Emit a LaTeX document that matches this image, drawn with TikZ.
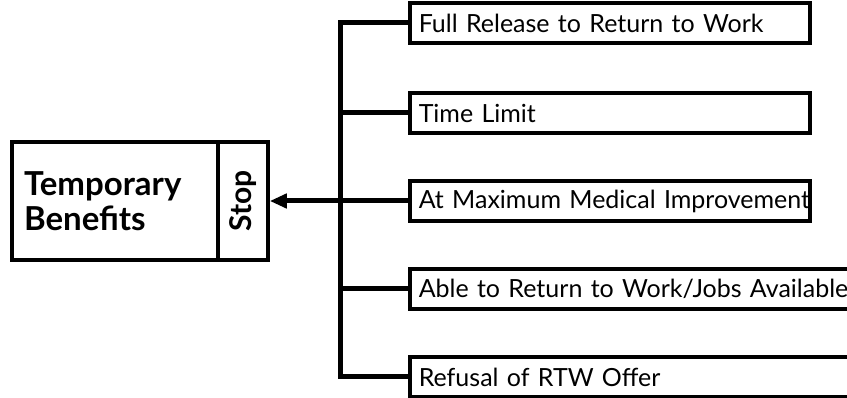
\documentclass[tikz,border=0pt]{standalone}
\usepackage{fontspec}
\setmainfont{Lato}
\usetikzlibrary{arrows.meta}
\begin{document}
\begin{tikzpicture}[x=1pt,y=-1pt,
  frame/.style={draw=black, line width=3.5pt, fill=white},
  item/.style={frame, anchor=west, minimum height=40pt, text width=382pt,
    inner xsep=9pt, align=left, font=\fontsize{25}{28}\selectfont},
  link/.style={line width=5pt, line cap=rect},
  trunk/.style={line width=5pt}]
\clip (0,0) rectangle (847,398);
\path[use as bounding box] (0,0) rectangle (847,398);

% left block: main box and side tab
\node[frame, minimum width=206pt, minimum height=118pt, text width=182pt,
  inner xsep=12pt, align=left, font=\bfseries\fontsize{33}{35}\selectfont] (main) at (115,201)
  {Temporary\\Benefits};
\node[frame, minimum width=50pt, minimum height=118pt, inner sep=0pt,
  font=\bfseries\fontsize{30}{32}\selectfont] (stop) at (243,201)
  {\rotatebox{90}{Stop}};

% reasons on the right
\node[item] (r1) at (408,23)  {\mbox{Full Release to Return to Work}};
\node[item] (r2) at (408,113) {\mbox{Time Limit}};
\node[item] (r3) at (408,201) {\mbox{At Maximum Medical Improvement}};
\node[item, text width=440pt] (r4) at (408,289) {\mbox{Able to Return to Work/Jobs Available}};
\node[item, text width=440pt] (r5) at (408,377) {\mbox{Refusal of RTW Offer}};

% trunk and branches
\coordinate (jt) at (340,23);
\coordinate (jb) at (340,377);
\coordinate (jm) at (340,201);
\draw[trunk] (jt) -- (jb);
\foreach \n in {r1,r2,r3,r4,r5}
  \draw[link] (\n.west -| jt) -- (\n.west);

% arrow into the tab
\draw[line width=5pt, -{Triangle[length=17pt,width=14pt]}] (jm) -- (stop.east);
\end{tikzpicture}
\end{document}
